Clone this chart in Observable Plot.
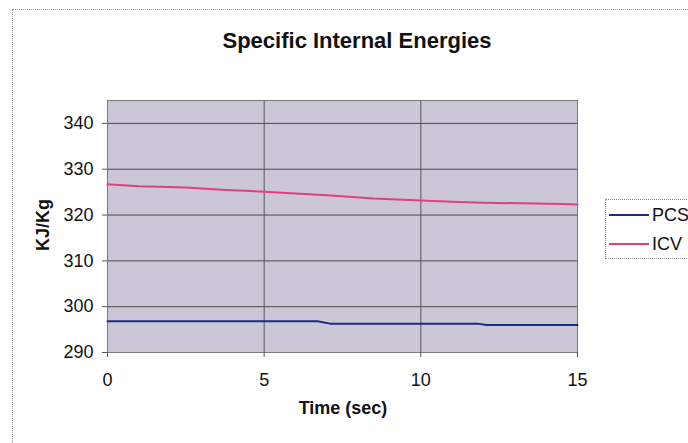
<!DOCTYPE html>
<html>
<head>
<meta charset="utf-8">
<script src="https://cdn.jsdelivr.net/npm/d3@7"></script>
<script src="https://cdn.jsdelivr.net/npm/@observablehq/plot@0.6"></script>
<style>
  body { margin: 0; background: #fff; }
  #chart {
    position: relative; width: 688px; height: 443px; overflow: hidden;
    font-family: Arial, "Liberation Sans", sans-serif; color: #111;
  }
  .outline {
    position: absolute; left: 12px; top: 9px; width: 720px; height: 480px;
    border: 1px dotted #9a9a9a;
  }
  .title {
    position: absolute; left: 357px; top: 30px; transform: translateX(-50%);
    font-size: 22px; line-height: 22px; font-weight: bold; white-space: nowrap;
  }
  .xlabel {
    position: absolute; left: 343px; top: 399px; transform: translateX(-50%);
    font-size: 18px; line-height: 18px; font-weight: bold; white-space: nowrap;
  }
  .ylabel {
    position: absolute; left: 43px; top: 225px;
    transform: translate(-50%, -50%) rotate(-90deg);
    font-size: 18px; line-height: 18px; font-weight: bold; white-space: nowrap;
  }
  #plot { position: absolute; left: 0; top: 0; }
  .legend {
    position: absolute; left: 605px; top: 199px; width: 120px; height: 58px;
    border: 1px dotted #8a8a8a; background: #fff;
  }
  .legend .row {
    position: absolute; left: 3px; display: flex; align-items: center;
    font-size: 18px; line-height: 18px; white-space: nowrap;
  }
  .legend svg { margin-right: 3px; }
</style>
</head>
<body>
<div id="chart">
  <div class="outline"></div>
  <div id="plot"></div>
  <div class="title">Specific Internal Energies</div>
  <div class="ylabel">KJ/Kg</div>
  <div class="xlabel">Time (sec)</div>
  <div class="legend"></div>
</div>
<script>
// Specific internal energy (kJ/kg) against time (s) for each volume
const seriesNames = ["PCS", "ICV"];
const seriesColors = ["#1c2a84", "#e0407e"];

const pcsTime   = [0, 6.7, 7.1, 11.8, 12.1, 15];
const pcsEnergy = [296.8, 296.8, 296.3, 296.3, 296.0, 296.0];

const icvTime   = [0, 1, 2.5, 3.5, 5, 7, 8.5, 10, 11, 12, 14.5, 15];
const icvEnergy = [326.7, 326.3, 326.0, 325.6, 325.1, 324.3, 323.6, 323.2, 322.9, 322.7, 322.4, 322.3];

const xTicks = [0, 5, 10, 15];
const yTicks = [290, 300, 310, 320, 330, 340];

const rows = [
  ...pcsTime.map((t, i) => ({series: "PCS", t, u: pcsEnergy[i]})),
  ...icvTime.map((t, i) => ({series: "ICV", t, u: icvEnergy[i]}))
];

const chart = Plot.plot({
  width: 688,
  height: 443,
  marginLeft: 107,
  marginRight: 111,
  marginTop: 100,
  marginBottom: 91,
  style: {fontFamily: "Arial, 'Liberation Sans', sans-serif", fontSize: "18px", color: "#111", background: "transparent"},
  x: {domain: [0, 15], label: null},
  y: {domain: [290, 345], label: null},
  color: {domain: seriesNames, range: seriesColors},
  marks: [
    Plot.frame({fill: "#cbc7d7", stroke: null}),
    Plot.ruleY(yTicks.filter(v => v > 290), {stroke: "#4a4a4a", strokeWidth: 1}),
    Plot.ruleX(xTicks.filter(v => v > 0 && v < 15), {stroke: "#555", strokeWidth: 1}),
    Plot.frame({stroke: "#7a7a7a", strokeWidth: 1}),
    Plot.axisY({ticks: yTicks, tickSize: 5, tickPadding: 9, stroke: "#555", label: null}),
    Plot.axisX({ticks: xTicks, tickSize: 5, tickPadding: 16, stroke: "#555", label: null}),
    Plot.line(rows, {x: "t", y: "u", z: "series", stroke: "series", strokeWidth: 2})
  ]
});
document.getElementById("plot").appendChild(chart);

// Legend entries
const legend = document.querySelector(".legend");
const rowTops = [6, 35];
seriesNames.forEach((name, i) => {
  const row = document.createElement("div");
  row.className = "row";
  row.style.top = rowTops[i] + "px";
  row.innerHTML = `<svg width="40" height="4"><line x1="0" x2="40" y1="2" y2="2" stroke="${seriesColors[i]}" stroke-width="2"/></svg>${name}`;
  legend.appendChild(row);
});
</script>
</body>
</html>
